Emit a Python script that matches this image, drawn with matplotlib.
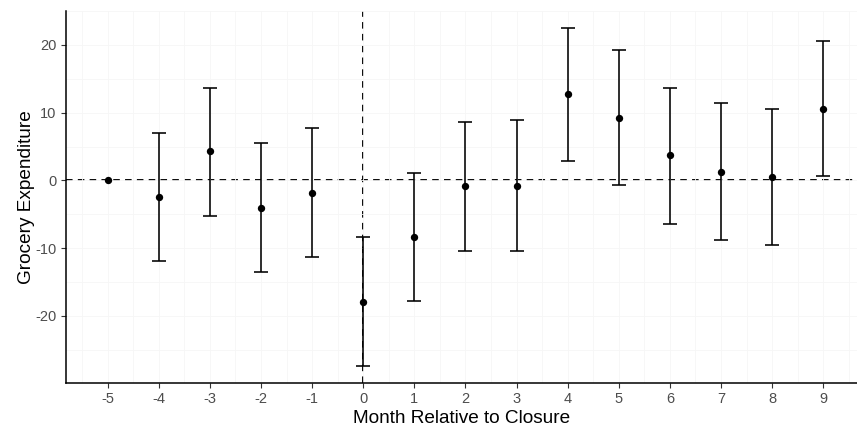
import matplotlib
matplotlib.use("Agg")
import matplotlib.pyplot as plt
from matplotlib.ticker import MultipleLocator

months = [-5, -4, -3, -2, -1, 0, 1, 2, 3, 4, 5, 6, 7, 8, 9]
estimate = [0.0, -2.5, 4.3, -4.0, -1.85, -17.9, -8.4, -0.9, -0.85, 12.7, 9.25, 3.7, 1.2, 0.45, 10.6]
ci_low = [0.0, -11.9, -5.2, -13.5, -11.3, -27.4, -17.8, -10.4, -10.45, 2.8, -0.7, -6.4, -8.8, -9.6, 0.6]
ci_high = [0.0, 7.05, 13.7, 5.45, 7.7, -8.4, 1.1, 8.6, 8.85, 22.5, 19.3, 13.7, 11.35, 10.5, 20.6]
xtick_labels = [str(m) for m in months]
ytick_values = [-20, -10, 0, 10, 20]

plt.rcParams['font.family'] = ['Liberation Sans', 'DejaVu Sans']

W, H = 857, 430
fig = plt.figure(figsize=(W / 100, H / 100), dpi=100)
left, right, top, bottom = 65.7, 857, 11, 383
ax = fig.add_axes([left / W, 1 - bottom / H, (right - left) / W, (bottom - top) / H])

ax.set_xlim(-5.82, 9.66)
ax.set_ylim(-29.9, 25.0)

# faint grid as in reference
ax.set_xticks(months)
ax.set_yticks(ytick_values)
ax.xaxis.set_minor_locator(MultipleLocator(0.5))
ax.yaxis.set_minor_locator(MultipleLocator(5))
ax.grid(True, which='both', color='#f6f6f6', linewidth=0.6, zorder=0)
ax.tick_params(which='minor', length=0)

dash = (0, (3.5, 2.8))
ax.axhline(0, color='black', linewidth=1.35, linestyle=dash, zorder=1)
ax.axvline(0, color='black', linewidth=1.35, linestyle=dash, zorder=1)

# error bars (skip zero-width reference interval)
xs, ys, lo, hi = [], [], [], []
for m, e, l, h in zip(months, estimate, ci_low, ci_high):
    if h > l:
        xs.append(m); ys.append(e); lo.append(e - l); hi.append(h - e)
ax.errorbar(xs, ys, yerr=[lo, hi], fmt='none',
            ecolor='black', elinewidth=1.15, capsize=5, capthick=1.15, zorder=2)
ax.scatter(months, estimate, s=28, color='black', zorder=3, linewidths=0)

ax.set_xticklabels(xtick_labels)
ax.set_yticklabels([str(v) for v in ytick_values])
ax.tick_params(which='major', length=3.5, width=0.8, color='#333333',
               labelcolor='#4d4d4d', labelsize=10.5, pad=3)

for s in ['top', 'right']:
    ax.spines[s].set_visible(False)
for s in ['left', 'bottom']:
    ax.spines[s].set_linewidth(1.1)
    ax.spines[s].set_color('black')

ax.set_xlabel('Month Relative to Closure', fontsize=13.7, color='black', labelpad=3)
ax.set_ylabel('Grocery Expenditure', fontsize=13.7, color='black', labelpad=0)

fig.savefig('out.png', dpi=100)
